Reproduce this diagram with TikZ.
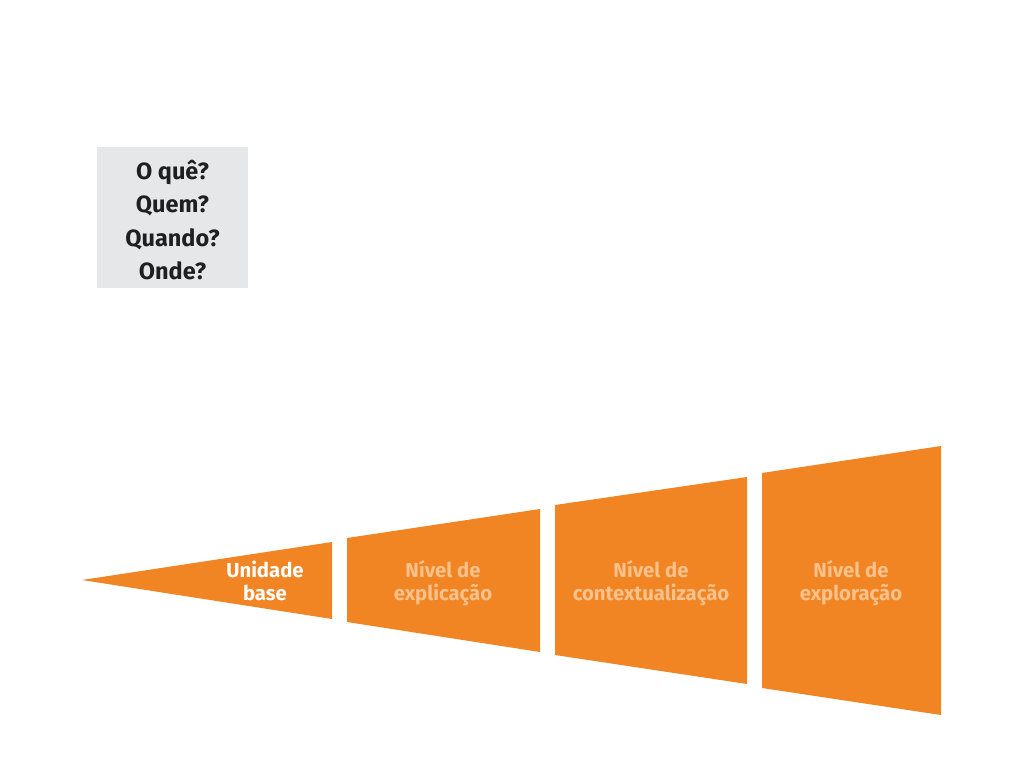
\documentclass[tikz,border=0pt]{standalone}
\usepackage{fontspec}
\setmainfont{Fira Sans}
\definecolor{orng}{HTML}{F18523}
\definecolor{lightorng}{HTML}{F9C28C}
\definecolor{boxgray}{HTML}{E6E7E8}
\begin{document}
\begin{tikzpicture}[x=1pt,y=-1pt,
  lbl/.style={font=\fontsize{20.3}{23}\selectfont\bfseries, align=center, inner sep=0pt},
  qtxt/.style={font=\fontsize{23.5}{33.5}\selectfont\bfseries, align=center, inner sep=0pt, text=black!88}]
\useasboundingbox (0,0) rectangle (1024,768);
\fill[white] (0,0) rectangle (1024,768);
% question box
\fill[boxgray] (97,147) rectangle (248,288);
\node[qtxt] (q) at (172.5,220) {O quê?\\Quem?\\Quando?\\Onde?};
% shapes
\fill[orng] (82,580) -- (332,542) -- (332,619) -- cycle;
\fill[orng] (347,538) -- (540,509) -- (540,652) -- (347,622) -- cycle;
\fill[orng] (555,505) -- (747,477) -- (747,684) -- (555,655) -- cycle;
\fill[orng] (762,473) -- (941,446) -- (941,715) -- (762,688) -- cycle;
% labels
\node[lbl, text=white] (u) at (265,580.5) {Unidade\\base};
\node[lbl, text=lightorng] (e) at (443,583) {Nível de\\explicação};
\node[lbl, text=lightorng] (c) at (651,583) {Nível de\\contextualização};
\node[lbl, text=lightorng] (x) at (851,583) {Nível de\\exploração};
\end{tikzpicture}
\end{document}
